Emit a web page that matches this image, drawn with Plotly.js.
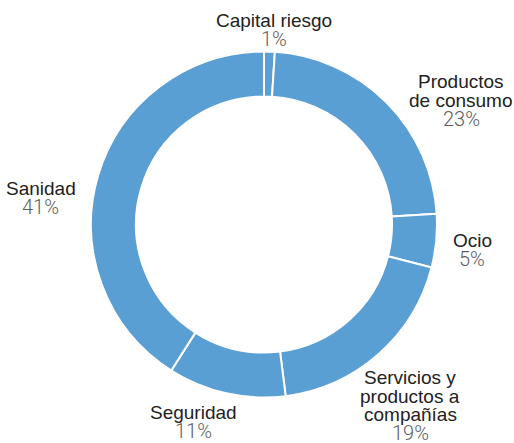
<!DOCTYPE html>
<html>
<head>
<meta charset="utf-8">
<script src="https://cdn.plot.ly/plotly-3.0.1.min.js"></script>
<style>html,body{margin:0;padding:0;background:#fff;}#chart{width:514px;height:443px;}</style>
</head>
<body>
<div id="chart"></div>
<script>
// ---- data ----
const categories = ["Capital riesgo", "Productos de consumo", "Ocio", "Servicios y productos a compañías", "Seguridad", "Sanidad"];
const labelLines = [["Capital riesgo"], ["Productos", "de consumo"], ["Ocio"], ["Servicios y", "productos a", "compañías"], ["Seguridad"], ["Sanidad"]];
const shares = [1, 23, 5, 19, 11, 41];

// ---- label placement (styling, not data) ----
const W = 514, H = 443;
const pieCx = 264, pieCy = 224.5, pieR = 173;
const labelR = 200;
const nudgeX = [4, 56, 9, 14, -27, -31];
const nudgeY = [5, 17, 6, 31, 2, 29];
const lineH = 18.5;

const total = shares.reduce((a, b) => a + b, 0);
const annotations = [];
let cum = 0;
shares.forEach((v, i) => {
  const mid = (cum + v / 2) / total * 2 * Math.PI;
  cum += v;
  const cx = pieCx + labelR * Math.sin(mid) + nudgeX[i];
  const cy = pieCy - labelR * Math.cos(mid) + nudgeY[i];
  const lines = labelLines[i].map(t => ({ t, pct: false }));
  lines.push({ t: Math.round(v / total * 100) + "%", pct: true });
  const n = lines.length;
  lines.forEach((ln, j) => {
    const py = cy + (j - (n - 1) / 2) * lineH;
    annotations.push({
      xref: "paper", yref: "paper",
      x: cx / W, y: 1 - py / H,
      xanchor: "center", yanchor: "middle",
      showarrow: false,
      text: ln.t,
      font: ln.pct
        ? { family: "Roboto, Liberation Sans, sans-serif", size: 20, color: "#5e5e5e", weight: 300 }
        : { family: "Liberation Sans, Arial, sans-serif", size: 19, color: "#222222" }
    });
  });
});

const trace = {
  type: "pie",
  labels: categories,
  values: shares,
  sort: false,
  direction: "clockwise",
  rotation: 0,
  hole: 0.74,
  marker: { colors: categories.map(() => "#599fd3"), line: { color: "#ffffff", width: 2 } },
  textinfo: "none",
  hoverinfo: "none",
  automargin: false,
  showlegend: false,
  domain: {
    x: [(pieCx - pieR) / W, (pieCx + pieR) / W],
    y: [1 - (pieCy + pieR) / H, 1 - (pieCy - pieR) / H]
  }
};

Plotly.newPlot("chart", [trace], {
  width: W, height: H,
  margin: { l: 0, r: 0, t: 0, b: 0 },
  paper_bgcolor: "#ffffff",
  showlegend: false,
  annotations: annotations
}, { displayModeBar: false, staticPlot: true });
</script>
</body>
</html>
